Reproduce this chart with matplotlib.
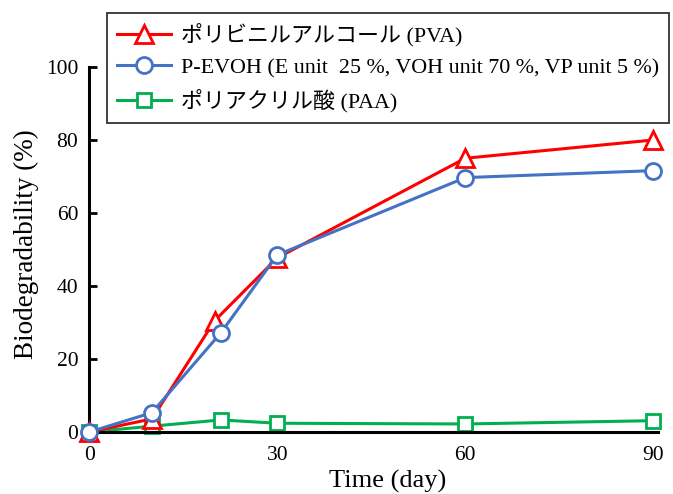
import matplotlib
matplotlib.use("Agg")
import matplotlib.pyplot as plt

# ---- data ----
pva_days = [0, 10, 20, 30, 60, 90]
pva_vals = [0, 3.6, 30.5, 47.7, 75, 80]

pevoh_days = [0, 10, 21, 30, 60, 90]
pevoh_vals = [0, 5.3, 27.2, 48.5, 69.7, 71.6]

paa_days = [0, 10, 21, 30, 60, 90]
paa_vals = [0, 1.6, 3.3, 2.4, 2.2, 3.1]

labels = ["ポリビニルアルコール (PVA)",
          "P-EVOH (E unit  25 %, VOH unit 70 %, VP unit 5 %)",
          "ポリアクリル酸 (PAA)"]
xticks = [0, 30, 60, 90]
yticks = [0, 20, 40, 60, 80, 100]

fam = ["Liberation Serif", "Noto Sans CJK JP", "DejaVu Sans"]
plt.rcParams["font.family"] = fam

fig = plt.figure(figsize=(6.73, 4.94), dpi=100)
ax = fig.add_axes([0.1327, 0.1255, 0.8446, 0.7389])

red = "#FF0000"
blue = "#4472C4"
green = "#00B050"

common = dict(lw=2.2, mfc="white", mew=2.0, clip_on=False)
l1, = ax.plot(pva_days, pva_vals, color=red, marker="^", ms=12.5, zorder=3, **common)
l2, = ax.plot(pevoh_days, pevoh_vals, color=blue, marker="o", ms=11.5, zorder=4, **common)
l3, = ax.plot(paa_days, paa_vals, color=green, marker="s", ms=10.5, zorder=2, **common)

ax.set_xlim(0, 90.7)
ax.set_ylim(0, 100)
ax.set_xticks(xticks)
ax.set_yticks(yticks)

for s in ["top", "right"]:
    ax.spines[s].set_visible(False)
for s in ["left", "bottom"]:
    ax.spines[s].set_linewidth(2.2)
    ax.spines[s].set_color("black")

ax.tick_params(axis="y", direction="in", length=6, width=2, labelsize=15.5, pad=8)
ax.tick_params(axis="x", length=0, labelsize=15.5, pad=10)

ax.set_xlabel("Time (day)", fontsize=19)
ax.xaxis.set_label_coords(0.5255, -0.103)
ax.set_ylabel("Biodegradability (%)", fontsize=19.5)
ax.yaxis.set_label_coords(-0.088, 0.515)

leg = fig.legend([l1, l2, l3], labels, loc="upper left",
                 bbox_to_anchor=(0.159, 0.974), bbox_transform=fig.transFigure,
                 borderaxespad=0, fancybox=False, shadow=False, framealpha=1,
                 edgecolor="#333333", fontsize=15.8, handlelength=2.45,
                 handletextpad=0.45, labelspacing=0.52, borderpad=0.45)
leg.get_frame().set_linewidth(1.3)

fig.savefig("out.png", dpi=100)
